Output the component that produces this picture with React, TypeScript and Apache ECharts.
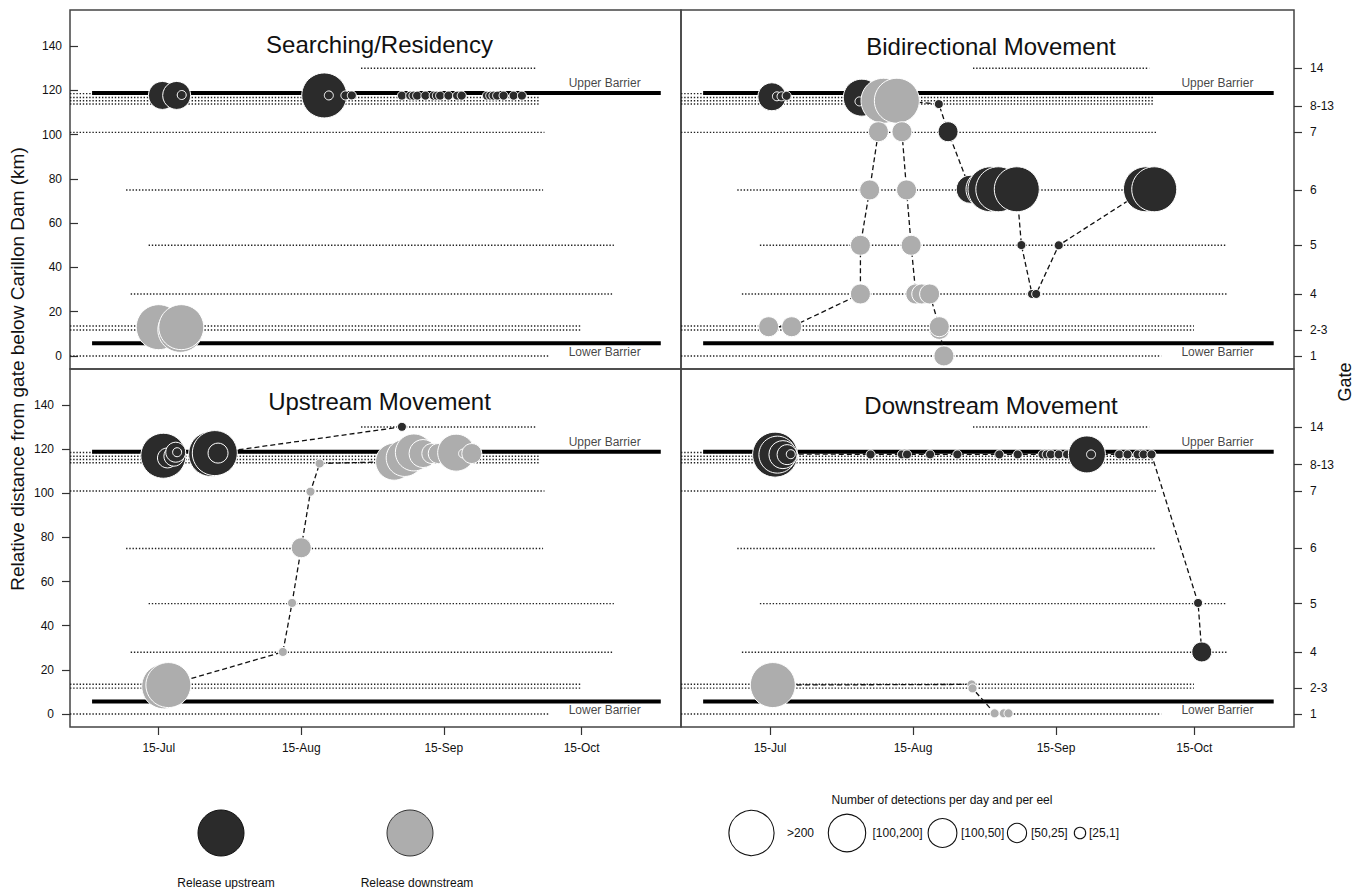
import React, { useEffect, useRef } from "react";
import * as echarts from "echarts";

// ---------- axes (x = days after 15 July, y = km below Carillon Dam) ----------
const X_MIN = -19.3;
const X_MAX = 113.6;
const Y_MIN = -5.9;
const Y_MAX = 156.3;

const dateTickDays = [0, 31, 62, 92];
const dateTickLabels = ["15-Jul", "15-Aug", "15-Sep", "15-Oct"];
const kmTicks = [0, 20, 40, 60, 80, 100, 120, 140];
const gateTickKm = [0, 11.7, 28, 50, 75, 101, 113, 130];
const gateTickLabels = ["1", "2-3", "4", "5", "6", "7", "8-13", "14"];

const panelTitles = ["Searching/Residency", "Bidirectional Movement", "Upstream Movement", "Downstream Movement"];

// receiver gate lines: [km, fromDay, toDay]
const gateLines = [
  [130, 44, 82.2],
  [118.5, X_MIN, 83],
  [116.8, X_MIN, 83],
  [115.3, X_MIN, 83],
  [113.8, X_MIN, 83],
  [101, X_MIN, 83.9],
  [75, -7.1, 83.6],
  [50, -2.2, 99],
  [28, -6.1, 99],
  [13.5, X_MIN, 91.9],
  [11.7, X_MIN, 91.9],
  [0, X_MIN, 84.8],
];
// barriers: [km, fromDay, toDay]
const barriers = [
  [118.8, -14.5, 109.2],
  [5.7, -14.5, 109.2],
];
// barrier labels: [text, day, km]
const barrierLabels: [string, number, number][] = [
  ["Upper Barrier", 97, 123.3],
  ["Lower Barrier", 97, 1.8],
];

// detection classes: 0 [25,1], 1 [50,25], 2 [100,50], 3 [100,200], 4 >200
const sizeClassLabels = [">200", "[100,200]", "[100,50]", "[50,25]", "[25,1]"];

// ---------- Searching/Residency ----------
const resUp = [
  [0.8, 117.7, 2], [3.9, 117.7, 2], [5.0, 117.9, 0],
  [36.0, 117.7, 4], [37.0, 117.7, 0], [40.6, 117.7, 0], [42.0, 117.7, 0],
  [52.9, 117.6, 0], [54.7, 117.6, 0], [55.4, 117.6, 0], [56.2, 117.6, 0], [58.0, 117.6, 0],
  [59.8, 117.6, 0], [60.5, 117.6, 0], [61.2, 117.6, 0], [63.0, 117.6, 0], [64.9, 117.6, 0],
  [65.9, 117.6, 0], [71.4, 117.6, 0], [72.1, 117.6, 0], [72.8, 117.6, 0], [73.6, 117.6, 0],
  [75.0, 117.6, 0], [77.2, 117.6, 0], [79.0, 117.6, 0],
];
const resDown = [[0.0, 13.0, 4], [4.7, 11.8, 4], [4.9, 13.0, 4]];

// ---------- Bidirectional Movement ----------
const bidiUp = [
  [0.4, 117.1, 2], [1.5, 117.3, 0], [2.5, 117.3, 0], [3.6, 117.5, 0],
  [19.9, 116.7, 3], [19.4, 115.0, 0],
  [36.6, 113.8, 0], [38.6, 101.3, 1],
  [43.4, 75.3, 2], [46.5, 75.3, 3], [47.8, 75.3, 4], [49.5, 75.3, 4], [53.5, 75.3, 4],
  [54.5, 50.1, 0], [56.8, 28.0, 0], [57.7, 28.0, 0], [62.6, 50.0, 0],
  [81.5, 75.3, 4], [83.3, 75.3, 4],
];
const bidiUpPath = [
  [19.9, 116.7], [36.6, 113.8], [38.6, 101.3], [43.4, 75.3], [53.5, 75.3], [54.5, 50.1],
  [56.8, 28.0], [57.7, 28.0], [62.6, 50.0], [81.5, 75.3],
];
const bidiDown = [
  [-0.3, 13.2, 1], [4.7, 13.2, 1], [19.6, 28.0, 1], [19.6, 50.0, 1], [21.6, 75.0, 1],
  [24.6, 115.3, 4], [27.5, 115.3, 4], [23.5, 101.3, 1], [28.6, 101.3, 1],
  [29.6, 75.0, 1], [30.6, 50.0, 1], [31.6, 28.0, 1], [32.9, 28.0, 1], [34.6, 28.0, 1],
  [36.7, 12.0, 1], [36.7, 13.2, 1], [37.7, 0.0, 1],
];
const bidiDownPathA = [[-0.3, 13.2], [4.7, 13.2], [19.6, 28.0], [19.6, 50.0], [21.6, 75.0], [23.5, 101.3], [24.6, 115.3]];
const bidiDownPathB = [[27.5, 115.3], [28.6, 101.3], [29.6, 75.0], [30.6, 50.0], [31.6, 28.0], [34.6, 28.0], [36.7, 13.2], [37.7, 0.0]];

// ---------- Upstream Movement ----------
const upUp = [
  [1.0, 117.0, 4], [1.9, 116.0, 1], [3.3, 116.8, 1], [3.7, 118.6, 1], [4.0, 118.6, 0],
  [11.4, 117.8, 4], [12.2, 118.2, 4], [12.9, 118.2, 1],
  [52.9, 130.1, 0],
];
const upUpPath = [[12.2, 118.2], [52.9, 130.1]];
const upDown = [
  [1.2, 12.5, 4], [2.1, 13.1, 4],
  [27.0, 28.1, 0], [29.0, 50.3, 0], [31.0, 75.3, 1], [33.0, 100.7, 0], [35.0, 113.5, 0],
  [51.2, 114.3, 3], [53.5, 116.0, 3], [55.5, 118.5, 3], [57.5, 118.0, 2], [59.4, 118.0, 1],
  [60.8, 118.0, 1], [64.7, 118.4, 3], [66.2, 118.0, 0], [68.1, 118.0, 1],
];
const upDownPath = [[2.1, 13.1], [27.0, 28.1], [29.0, 50.3], [31.0, 75.3], [33.0, 100.7], [35.0, 113.5], [51.2, 114.3]];

// ---------- Downstream Movement ----------
const downUp = [
  [1.1, 117.5, 4], [1.6, 117.5, 3], [2.8, 117.5, 2], [3.7, 117.5, 1], [4.5, 117.7, 0],
  [21.8, 117.6, 0], [28.6, 117.6, 0], [29.7, 117.6, 0], [34.7, 117.6, 0], [40.6, 117.6, 0],
  [49.7, 117.6, 0], [53.7, 117.6, 0], [59.1, 117.6, 0], [60.0, 117.6, 0], [60.9, 117.6, 0],
  [62.6, 117.6, 0], [64.4, 117.6, 0], [68.7, 117.6, 3], [69.6, 117.6, 0], [75.7, 117.6, 0],
  [77.5, 117.6, 0], [79.7, 117.6, 0], [81.0, 117.6, 0], [82.7, 117.6, 0],
  [92.8, 50.3, 0], [93.6, 28.1, 1],
];
const downUpPath = [[4.5, 117.7], [82.7, 117.6], [92.8, 50.3], [93.6, 28.1]];
const downDown = [[0.6, 13.1, 4], [43.7, 13.4, 0], [43.9, 11.6, 0], [48.7, 0.3, 0], [50.7, 0.3, 0], [51.7, 0.3, 0]];
const downDownPath = [[0.6, 13.1], [43.7, 13.4], [43.9, 11.6], [48.7, 0.3], [51.7, 0.3]];

// ---------- styles ----------
const FONT = '"Liberation Sans", Arial, Helvetica, sans-serif';
const DARK = "#2b2b2b";
const GREY = "#adadad";
const SIZE_PX = [9, 20, 28, 37, 45];
const LEGEND_R = [22.6, 18.7, 14.4, 9.6, 5.7];

const panels = [
  { up: resUp, down: resDown, paths: [] as number[][][] },
  { up: bidiUp, down: bidiDown, paths: [bidiUpPath, bidiDownPathA, bidiDownPathB] },
  { up: upUp, down: upDown, paths: [upUpPath, upDownPath] },
  { up: downUp, down: downDown, paths: [downUpPath, downDownPath] },
];

const gridRects = [
  { left: 70, top: 10, width: 611, height: 359 },
  { left: 681, top: 10, width: 613, height: 359 },
  { left: 70, top: 369, width: 611, height: 358 },
  { left: 681, top: 369, width: 613, height: 358 },
];
const titlePos = [
  [379.5, 44], [991, 46.5], [379.5, 401.5], [991, 405],
];

function lookup(values: number[], labels: string[], v: number) {
  const i = values.findIndex((t) => Math.abs(t - v) < 0.01);
  return i >= 0 ? labels[i] : "";
}

function buildOption() {
  const series: any[] = [];
  panels.forEach((p, i) => {
    const ax = { xAxisIndex: i, yAxisIndex: i };
    gateLines.forEach(([km, a, b]) =>
      series.push({
        type: "line", ...ax, silent: true, symbol: "none", z: 1,
        data: [[a, km], [b, km]],
        lineStyle: { color: "#222", width: 1.4, type: [1.4, 1.8] },
      })
    );
    barriers.forEach(([km, a, b]) =>
      series.push({
        type: "line", ...ax, silent: true, symbol: "none", z: 2,
        data: [[a, km], [b, km]],
        lineStyle: { color: "#000", width: 4, cap: "butt" },
      })
    );
    series.push({
      type: "scatter", ...ax, silent: true, z: 2, symbolSize: 0.1,
      itemStyle: { color: "rgba(0,0,0,0)" },
      data: barrierLabels.map(([t, x, y]) => ({ name: t, value: [x, y] })),
      label: { show: true, position: "inside", formatter: "{b}", fontSize: 12, color: "#111", fontFamily: FONT },
    });
    p.paths.forEach((path) =>
      series.push({
        type: "line", ...ax, silent: true, symbol: "none", z: 3,
        data: path,
        lineStyle: { color: "#111", width: 1.3, type: [5, 3] },
      })
    );
    series.push({
      type: "scatter", ...ax, z: 4, data: p.up,
      symbolSize: (v: number[]) => SIZE_PX[v[2]],
      itemStyle: { color: DARK, borderColor: "#fff", borderWidth: 1, opacity: 1 },
    });
    series.push({
      type: "scatter", ...ax, z: 5, data: p.down,
      symbolSize: (v: number[]) => SIZE_PX[v[2]],
      itemStyle: { color: GREY, borderColor: "#fff", borderWidth: 1, opacity: 1 },
    });
  });

  const axisText = { fontSize: 12, color: "#111", fontFamily: FONT };

  const xAxis = gridRects.map((_, i) => ({
    type: "value", gridIndex: i, min: X_MIN, max: X_MAX,
    axisLine: { show: false, onZero: false }, splitLine: { show: false },
    axisTick: i >= 2
      ? { show: true, customValues: dateTickDays, length: 8, lineStyle: { color: "#333", width: 1.2 } }
      : { show: false },
    axisLabel: i >= 2
      ? { show: true, customValues: dateTickDays, margin: 15, ...axisText,
          formatter: (v: number) => lookup(dateTickDays, dateTickLabels, v) }
      : { show: false },
  }));

  const yAxis = gridRects.map((_, i) => {
    const right = i % 2 === 1;
    const base: any = {
      type: "value", gridIndex: i, min: Y_MIN, max: Y_MAX,
      position: right ? "right" : "left",
      axisLine: { show: false, onZero: false }, splitLine: { show: false },
    };
    if (right) {
      base.axisTick = { show: true, customValues: gateTickKm, length: 8, lineStyle: { color: "#333", width: 1.2 } };
      base.axisLabel = { show: true, customValues: gateTickKm, margin: 16, ...axisText,
        formatter: (v: number) => lookup(gateTickKm, gateTickLabels, v) };
    } else {
      const inside = i === 0;
      base.axisTick = { show: true, inside, customValues: kmTicks, length: 8, lineStyle: { color: "#333", width: 1.2 } };
      base.axisLabel = { show: true, customValues: kmTicks, margin: inside ? 8 : 16, ...axisText,
        formatter: (v: number) => String(Math.round(v)) };
    }
    return base;
  });

  const txt = (text: string, x: number, y: number, size: number, extra: any = {}) => ({
    type: "text", x, y, silent: true, z: 100, ...extra,
    style: {
      text, fill: "#111", fontSize: size, fontFamily: FONT,
      align: "center", verticalAlign: "middle", textAlign: "center", textVerticalAlign: "middle",
    },
  });

  const graphic: any[] = [];
  panelTitles.forEach((t, i) => graphic.push(txt(t, titlePos[i][0], titlePos[i][1], 24)));
  graphic.push(txt("Relative distance from gate below Carillon Dam (km)", 17, 369, 19, { rotation: Math.PI / 2 }));
  graphic.push(txt("Gate", 1345, 382, 18, { rotation: Math.PI / 2 }));

  // release legend
  graphic.push({ type: "circle", shape: { cx: 221, cy: 833, r: 23 }, style: { fill: DARK, stroke: "#111", lineWidth: 1 } });
  graphic.push({ type: "circle", shape: { cx: 410, cy: 833, r: 23 }, style: { fill: GREY, stroke: "#333", lineWidth: 1 } });
  graphic.push(txt("Release upstream", 226, 883, 12));
  graphic.push(txt("Release downstream", 417, 883, 12));

  // detection-size legend
  graphic.push(txt("Number of detections per day and per eel", 942, 800, 12));
  const cxs = [751.5, 847, 942.5, 1017, 1080];
  const txs = [787, 872.5, 961, 1031, 1089];
  sizeClassLabels.forEach((lab, k) => {
    graphic.push({ type: "circle", shape: { cx: cxs[k], cy: 833, r: LEGEND_R[k] },
      style: { fill: "#fff", stroke: "#111", lineWidth: 1.1 } });
    graphic.push({ type: "text", x: txs[k], y: 833, silent: true,
      style: { text: lab, fill: "#111", fontSize: 12, fontFamily: FONT,
        align: "left", verticalAlign: "middle", textAlign: "left", textVerticalAlign: "middle" } });
  });

  return {
    animation: false,
    backgroundColor: "#fff",
    textStyle: { fontFamily: FONT },
    grid: gridRects.map((g) => ({
      ...g, show: true, borderColor: "#444", borderWidth: 1.5, backgroundColor: "transparent",
      containLabel: false, outerBoundsMode: "none",
    })),
    xAxis, yAxis, series, graphic,
  };
}

export default function App() {
  const ref = useRef<HTMLDivElement>(null);
  useEffect(() => {
    const chart = echarts.init(ref.current!, null, { renderer: "svg" });
    chart.setOption(buildOption() as any);
    return () => chart.dispose();
  }, []);
  return (
    <div
      ref={ref}
      style={{ position: "fixed", left: 0, top: 0, width: 1364, height: 889, background: "#fff" }}
    />
  );
}
